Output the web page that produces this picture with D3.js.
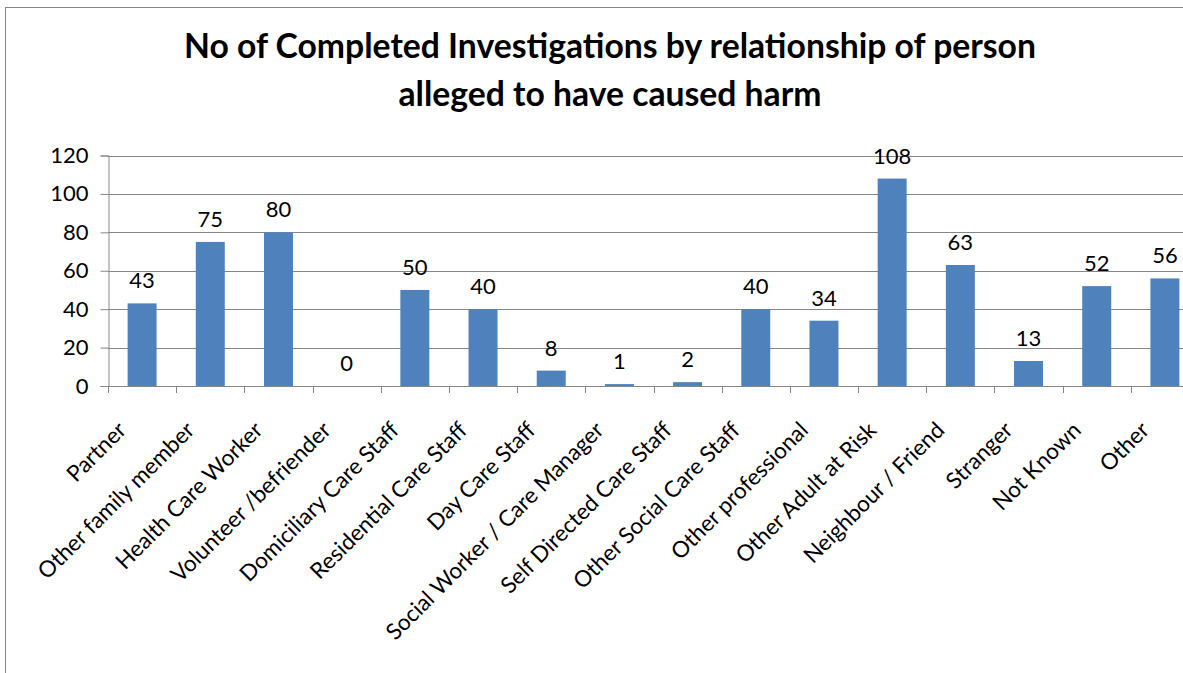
<!DOCTYPE html>
<html>
<head>
<meta charset="utf-8">
<script src="https://cdn.jsdelivr.net/npm/d3@7"></script>
<style>
  html, body { margin: 0; padding: 0; background: #fff; overflow: hidden; }
  svg text { font-family: Lato, "Open Sans", sans-serif; fill: #000; }
</style>
</head>
<body>
<svg id="chart" width="1183" height="673"></svg>
<script>
const titleLines = ["No of Completed Investigations by relationship of person", "alleged to have caused harm"];
const categories = ["Partner", "Other family member", "Health Care Worker", "Volunteer /befriender",
  "Domiciliary Care Staff", "Residential Care Staff", "Day Care Staff", "Social Worker / Care Manager",
  "Self Directed Care Staff", "Other Social Care Staff", "Other professional", "Other Adult at Risk",
  "Neighbour / Friend", "Stranger", "Not Known", "Other"];
const values = [43, 75, 80, 0, 50, 40, 8, 1, 2, 40, 34, 108, 63, 13, 52, 56];
const yTicks = [0, 20, 40, 60, 80, 100, 120];

const svg = d3.select("#chart");
const W = 1183, H = 673;
const plot = { left: 108, right: 1199, top: 155.5, bottom: 386 };

// outer chart border
svg.append("rect").attr("x", 5.5).attr("y", 7.5).attr("width", 1300).attr("height", 800)
  .attr("fill", "none").attr("stroke", "#868686").attr("stroke-width", 1);

// title
const title = svg.append("g");
titleLines.forEach((t, i) => {
  title.append("text").attr("x", 610).attr("y", 58 + i * 48)
    .attr("text-anchor", "middle").style("font-weight", "bold").style("font-size", "33.7px").text(t);
});

const x = d3.scaleBand().domain(categories).range([plot.left, plot.right]).paddingInner(0.575).paddingOuter(0.2875);
const y = d3.scaleLinear().domain([0, 120]).range([plot.bottom, plot.top]);

// gridlines
svg.append("g").selectAll("line").data(yTicks.filter(d => d > 0)).join("line")
  .attr("x1", plot.left).attr("x2", W).attr("y1", d => Math.round(y(d)) + 0.5).attr("y2", d => Math.round(y(d)) + 0.5)
  .attr("stroke", "#868686").attr("stroke-width", 1);

// y axis
const yAxis = svg.append("g").attr("transform", `translate(${plot.left + 0.5},0)`)
  .call(d3.axisLeft(y).tickValues(yTicks).tickSize(8).tickPadding(12));
yAxis.select(".domain").attr("stroke", "#868686");
yAxis.selectAll(".tick line").attr("stroke", "#868686");
yAxis.selectAll(".tick text").style("font-size", "22px").attr("fill", "#000");

// bars
svg.append("g").selectAll("rect").data(values).join("rect")
  .attr("x", (d, i) => x(categories[i])).attr("width", x.bandwidth())
  .attr("y", d => y(d)).attr("height", d => y(0) - y(d)).attr("fill", "#4F81BD");

// x axis
const band = x.step();
const xg = svg.append("g");
xg.append("line").attr("x1", plot.left).attr("x2", W).attr("y1", plot.bottom + 0.5).attr("y2", plot.bottom + 0.5)
  .attr("stroke", "#868686");
xg.selectAll("line.tk").data(d3.range(categories.length + 1)).join("line").attr("class", "tk")
  .attr("x1", i => Math.round(plot.left + i * band) + 0.5).attr("x2", i => Math.round(plot.left + i * band) + 0.5)
  .attr("y1", plot.bottom).attr("y2", plot.bottom + 7).attr("stroke", "#868686");

// category labels
xg.selectAll("text").data(categories).join("text")
  .attr("transform", d => `translate(${x(d) + x.bandwidth() / 2 - 20},${plot.bottom + 40}) rotate(-45)`)
  .attr("text-anchor", "end").attr("dy", "0.35em").style("font-size", "22.5px").text(d => d);

// value labels
svg.append("g").selectAll("text").data(values).join("text")
  .attr("x", (d, i) => x(categories[i]) + x.bandwidth() / 2).attr("y", d => y(d) - 15)
  .attr("text-anchor", "middle").style("font-size", "22px").text(d => d);
</script>
</body>
</html>
